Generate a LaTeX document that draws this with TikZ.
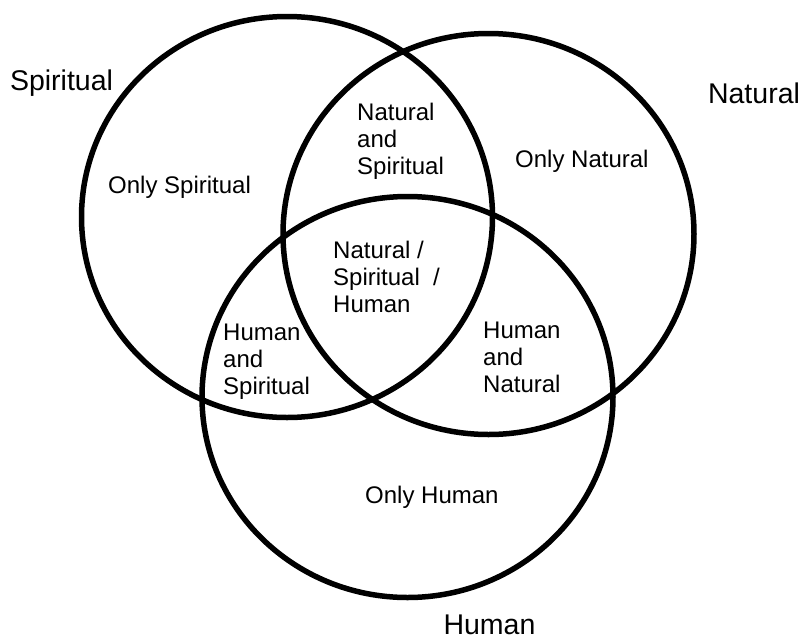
\documentclass[tikz,border=0pt]{standalone}
\usepackage{fontspec}
\setmainfont{Liberation Sans}

\begin{document}
\begin{tikzpicture}[x=1pt, y=-1pt,
	ring/.style={draw, line width=5.5pt},
	setlabel/.style={anchor=base, inner sep=0pt, font=\fontsize{28.5}{32}\selectfont},
	zonelabel/.style={anchor=base west, inner sep=0pt, align=left, font=\fontsize{24}{27}\selectfont}]
	\useasboundingbox (0, 0) rectangle (804, 641);
	% Circles:
	\coordinate (spiritual) at (287, 217);
	\coordinate (natural) at (488.5, 234);
	\coordinate (human) at (407.5, 397);
	\draw[ring] (spiritual) ellipse [x radius=205.5, y radius=200.5];
	\draw[ring] (natural) ellipse [x radius=205.5, y radius=200.5];
	\draw[ring] (human) ellipse [x radius=205.5, y radius=200.5];
	% Set names:
	\node[setlabel] (spiritualname) at (61.5, 90) {Spiritual};
	\node[setlabel] (naturalname) at (754, 103) {Natural};
	\node[setlabel] (humanname) at (489.5, 634) {Human};
	% Zones (base is the last line):
	\node[zonelabel] (onlyspiritual) at (108, 193) {Only Spiritual};
	\node[zonelabel] (onlynatural) at (515, 167) {Only Natural};
	\node[zonelabel] (onlyhuman) at (365, 503) {Only Human};
	\node[zonelabel] (natspir) at (357, 174) {Natural\\and\\Spiritual};
	\node[zonelabel] (allthree) at (333, 312) {Natural /\\Spiritual~ /\\Human};
	\node[zonelabel] (humspir) at (223, 394) {Human\\and\\Spiritual};
	\node[zonelabel] (humnat) at (483, 392) {Human\\and\\Natural};
\end{tikzpicture}
\end{document}
